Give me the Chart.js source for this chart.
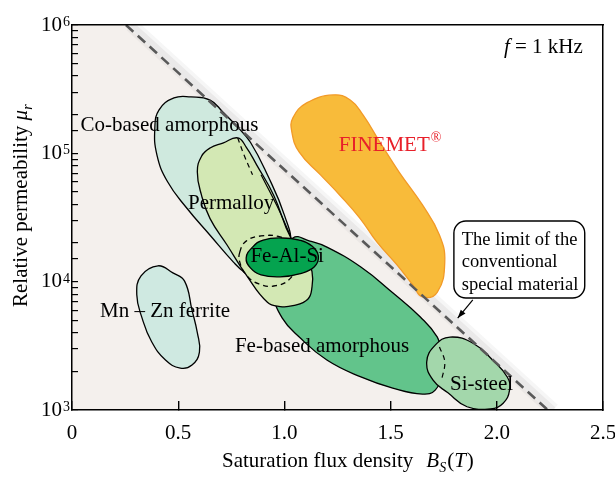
<!DOCTYPE html>
<html>
<head>
<meta charset="utf-8">
<script src="https://cdn.jsdelivr.net/npm/chart.js@4.4.1/dist/chart.umd.min.js"></script>
<style>
body{margin:0;background:#fff}
#wrap{width:615px;height:479px;position:relative}
</style>
</head>
<body>
<div id="wrap"><canvas id="myChart"></canvas></div>
<script>
// tick labels
var xTickValues = [0, 0.5, 1.0, 1.5, 2.0, 2.5]
var xTickLabels = ['0', '0.5', '1.0', '1.5', '2.0', '2.5']
var yTickValues = [1e3, 1e4, 1e5, 1e6]
var yTickBase = '10'
var yTickExps = ['3', '4', '5', '6']

// outlines of the material regions: Bs (T) / relative permeability
var coB  = [0.78, 0.84, 0.92, 1.00, 1.03, 0.98, 0.88, 0.81, 0.76, 0.65, 0.54, 0.45, 0.40, 0.39, 0.41, 0.48, 0.56, 0.65, 0.71]
var coMu = [1.6e5, 1.22e5, 6.8e4, 3.3e4, 1.9e4, 1.23e4, 1.03e4, 1.19e4, 1.42e4, 2.3e4, 3.75e4, 6.0e4, 9.7e4, 1.58e5, 2.18e5, 2.7e5, 2.75e5, 2.6e5, 2.1e5]

var permB  = [0.71, 0.78, 0.82, 0.87, 0.95, 1.03, 1.10, 1.13, 1.13, 1.11, 1.04, 0.98, 0.92, 0.82, 0.73, 0.65, 0.61, 0.59, 0.61, 0.65]
var permMu = [1.2e5, 1.32e5, 1.12e5, 8.1e4, 4.7e4, 2.2e4, 1.6e4, 1.2e4, 9.1e3, 7.3e3, 6.5e3, 6.4e3, 6.9e3, 1.13e4, 1.93e4, 3.1e4, 4.7e4, 7.2e4, 9.5e4, 1.1e5]

var fasB  = [0.99, 1.07, 1.13, 1.16, 1.14, 1.07, 0.98, 0.89, 0.84, 0.82, 0.85, 0.90]
var fasMu = [2.19e4, 2.11e4, 1.9e4, 1.58e4, 1.3e4, 1.15e4, 1.09e4, 1.13e4, 1.28e4, 1.53e4, 1.86e4, 2.11e4]

var ringB  = [0.79, 0.82, 0.89, 0.98, 1.05, 1.06, 1.03, 0.96, 0.88, 0.82, 0.79]
var ringMu = [1.7e4, 2.07e4, 2.27e4, 2.23e4, 1.93e4, 1.42e4, 1.07e4, 9.3e3, 9.6e3, 1.13e4, 1.42e4]

var febB  = [1.20, 1.36, 1.51, 1.64, 1.72, 1.74, 1.74, 1.71, 1.65, 1.51, 1.36, 1.20, 1.07, 0.99, 0.95, 0.96, 1.04, 1.12]
var febMu = [1.86e4, 1.3e4, 8.2e3, 5.3e3, 3.7e3, 2.8e3, 1.94e3, 1.43e3, 1.33e3, 1.48e3, 1.81e3, 2.45e3, 3.7e3, 5.2e3, 7.9e3, 1.35e4, 2.19e4, 2.07e4]

var siB  = [1.78, 1.89, 1.98, 2.05, 2.06, 2.03, 1.97, 1.86, 1.77, 1.70, 1.67, 1.71]
var siMu = [3.7e3, 3.3e3, 2.45e3, 1.8e3, 1.43e3, 1.13e3, 1.02e3, 1.06e3, 1.36e3, 1.71e3, 2.37e3, 3.2e3]

var mnB  = [0.405, 0.475, 0.53, 0.565, 0.59, 0.60, 0.565, 0.51, 0.44, 0.375, 0.33, 0.305, 0.325]
var mnMu = [1.33e4, 1.17e4, 1.01e4, 6.0e3, 4.0e3, 2.83e3, 2.24e3, 2.12e3, 2.45e3, 3.4e3, 5.2e3, 7.9e3, 1.11e4]

var finB  = [1.23, 1.31, 1.37, 1.45, 1.54, 1.65, 1.73, 1.755, 1.72, 1.65, 1.605, 1.53, 1.435, 1.355, 1.26, 1.17, 1.07, 1.035, 1.04, 1.105]
var finMu = [2.85e5, 2.6e5, 1.99e5, 1.22e5, 7.15e4, 3.96e4, 2.31e4, 1.42e4, 8.3e3, 7.6e3, 9.4e3, 1.35e4, 2.04e4, 3.13e4, 4.74e4, 6.8e4, 1.02e5, 1.47e5, 1.89e5, 2.47e5]

// inner edges
var coEdgeB  = [0.89, 0.965, 1.03]
var coEdgeMu = [6.8e4, 3.9e4, 2.25e4]
var permDashB  = [0.78, 0.81, 0.85]
var permDashMu = [1.32e5, 9.7e4, 6.8e4]
var siDashB  = [1.73, 1.755, 1.74]
var siDashMu = [3.1e3, 2.37e3, 1.71e3]

// limit of the conventional special material
var limitB  = [0.254, 2.24]
var limitMu = [1e6, 1e3]

var serif = '"Liberation Serif", "Times New Roman", serif'

function pts(bs, mus){
    return bs.map(function(b, i){ return {x: b, y: mus[i]} })
}
function region(name, bs, mus, fillCol, edgeCol, order){
    return {label: name, data: pts(bs, mus), fill: 'shape', backgroundColor: fillCol,
        borderColor: edgeCol, borderWidth: 1.3, pointRadius: 0, tension: 0.45, order: order, closed: true}
}
function edge(name, bs, mus, dash, order){
    return {label: name, data: pts(bs, mus), fill: false, borderColor: '#000', borderWidth: 1.2,
        borderDash: dash, pointRadius: 0, tension: 0.4, order: order}
}
// soft shade on the upper side of the limit line
var shadeB = limitB.map(function(b){ return b + 0.025 })

var datasets = [
    {label: 'bg', data: pts([0, limitB[0], limitB[1], 2.5], [limitMu[0], limitMu[0], limitMu[1], limitMu[1]]),
        fill: 'start', backgroundColor: '#f4f0ed', borderWidth: 0, pointRadius: 0, order: 100},
    {label: 'shade1', data: pts(shadeB, limitMu), fill: false, borderColor: 'rgba(110,100,95,0.06)', borderWidth: 14, pointRadius: 0, order: 99},
    {label: 'shade2', data: pts(shadeB, limitMu), fill: false, borderColor: 'rgba(110,100,95,0.09)', borderWidth: 7, pointRadius: 0, order: 98},
    region('Co-based amorphous', coB, coMu, '#cfe9de', '#000', 90),
    region('Mn-Zn ferrite', mnB, mnMu, '#cfe9e1', '#000', 90),
    region('FINEMET', finB, finMu, '#f8bb3a', '#f29a27', 90),
    region('Fe-based amorphous', febB, febMu, '#62c48b', '#000', 80),
    region('Permalloy', permB, permMu, '#d3e8b4', '#000', 70),
    edge('Co edge', coEdgeB, coEdgeMu, [], 65),
    edge('Permalloy dash', permDashB, permDashMu, [5, 4], 65),
    Object.assign(region('ring', ringB, ringMu, 'rgba(0,0,0,0)', '#000', 60), {borderDash: [5, 4], fill: false}),
    region('Fe-Al-Si', fasB, fasMu, '#05a34f', '#000', 55),
    region('Si-steel', siB, siMu, '#a3d7ab', '#000', 50),
    edge('Si dash', siDashB, siDashMu, [5, 4], 45),
    {label: 'limit', data: pts(limitB, limitMu), fill: false, borderColor: '#595959', borderWidth: 2.6,
        borderDash: [10, 6], pointRadius: 0, order: 40}
]

// text on the plot
var textLabels = [
    {text: 'Co-based amorphous', b: 0.04, mu: 1.66e5},
    {text: 'Permalloy', b: 0.546, mu: 4.1e4},
    {text: 'Fe-Al-Si', b: 0.84, mu: 1.58e4},
    {text: 'Mn – Zn ferrite', b: 0.132, mu: 5.9e3},
    {text: 'Fe-based amorphous', b: 0.767, mu: 3.1e3},
    {text: 'Si-steel', b: 1.78, mu: 1.57e3}
]
var finemetLabel = {b: 1.256, mu: 1.16e5}
var freqLabel = {b: 2.405, mu: 6.74e5}
var callout = {b1: 1.798, b2: 2.414, mu1: 2.97e4, mu2: 7.46e3, textB: 1.835,
    lines: ['The limit of the', 'conventional', 'special material'], lineMu: [2.11e4, 1.42e4, 9.42e3],
    arrowFrom: {b: 1.887, mu: 7.2e3}, arrowTo: {b: 1.816, mu: 5.2e3}}

// make the region outlines smooth all the way round
var loopPlugin = {
    id: 'loops',
    afterDatasetsUpdate: function(chart){
        chart.data.datasets.forEach(function(ds, i){
            if (ds.closed){
                var line = chart.getDatasetMeta(i).dataset
                line._loop = true
                line._fullLoop = true
            }
        })
    }
}

var notesPlugin = {
    id: 'notes',
    afterDatasetsDraw: function(chart){
        var ctx = chart.ctx, xs = chart.scales.x, ys = chart.scales.y
        var px = function(b){ return xs.getPixelForValue(b) }
        var py = function(m){ return ys.getPixelForValue(m) }
        ctx.save()
        ctx.textBaseline = 'middle'
        ctx.fillStyle = '#000'
        ctx.font = '21px ' + serif
        textLabels.forEach(function(l){ ctx.fillText(l.text, px(l.b), py(l.mu)) })

        // FINEMET®
        ctx.fillStyle = '#e8202a'
        ctx.fillText('FINEMET', px(finemetLabel.b), py(finemetLabel.mu))
        var w = ctx.measureText('FINEMET').width
        ctx.font = '14px ' + serif
        ctx.fillText('®', px(finemetLabel.b) + w + 1, py(finemetLabel.mu) - 7)

        // f = 1 kHz
        ctx.fillStyle = '#000'
        ctx.font = '21px ' + serif
        ctx.textAlign = 'right'
        var rest = ' = 1 kHz'
        var rx = px(freqLabel.b)
        ctx.fillText(rest, rx, py(freqLabel.mu))
        var rw = ctx.measureText(rest).width
        ctx.font = 'italic 21px ' + serif
        ctx.fillText('f', rx - rw, py(freqLabel.mu))
        ctx.textAlign = 'left'

        // callout box
        var x1 = px(callout.b1), x2 = px(callout.b2), y1 = py(callout.mu1), y2 = py(callout.mu2)
        ctx.beginPath()
        ctx.roundRect(x1, y1, x2 - x1, y2 - y1, 12)
        ctx.fillStyle = '#fff'
        ctx.fill()
        ctx.lineWidth = 1.4
        ctx.strokeStyle = '#000'
        ctx.stroke()
        ctx.fillStyle = '#000'
        ctx.font = '18.5px ' + serif
        callout.lines.forEach(function(t, i){ ctx.fillText(t, px(callout.textB), py(callout.lineMu[i])) })

        // arrow
        var ax = px(callout.arrowFrom.b), ay = py(callout.arrowFrom.mu)
        var bx = px(callout.arrowTo.b), by = py(callout.arrowTo.mu)
        ctx.beginPath()
        ctx.moveTo(ax, ay)
        ctx.lineTo(bx, by)
        ctx.lineWidth = 1.2
        ctx.stroke()
        var ang = Math.atan2(by - ay, bx - ax)
        ctx.beginPath()
        ctx.moveTo(bx, by)
        ctx.lineTo(bx - 9 * Math.cos(ang - 0.35), by - 9 * Math.sin(ang - 0.35))
        ctx.lineTo(bx - 9 * Math.cos(ang + 0.35), by - 9 * Math.sin(ang + 0.35))
        ctx.closePath()
        ctx.fill()
        ctx.restore()
    },
    afterDraw: function(chart){
        var ctx = chart.ctx, ys = chart.scales.y, area = chart.chartArea
        ctx.save()
        ctx.fillStyle = '#000'
        // exponents of the y tick labels
        ctx.font = '14px ' + serif
        ctx.textBaseline = 'alphabetic'
        yTickValues.forEach(function(v, i){
            ctx.fillText(yTickExps[i], area.left - 9, ys.getPixelForValue(v) + 1)
        })
        // x title
        ctx.font = '21px ' + serif
        var tx = 222, ty = 467
        ctx.fillText('Saturation flux density', tx, ty)
        tx += ctx.measureText('Saturation flux density').width + 13
        ctx.font = 'italic 21px ' + serif
        ctx.fillText('B', tx, ty)
        tx += ctx.measureText('B').width
        ctx.font = 'italic 14px ' + serif
        ctx.fillText('S', tx, ty + 5)
        tx += ctx.measureText('S').width + 1
        ctx.font = '21px ' + serif
        ctx.fillText('(', tx, ty)
        tx += ctx.measureText('(').width
        ctx.font = 'italic 21px ' + serif
        ctx.fillText('T', tx, ty)
        tx += ctx.measureText('T').width + 1
        ctx.font = '21px ' + serif
        ctx.fillText(')', tx, ty)
        // y title
        ctx.translate(27, 307)
        ctx.rotate(-Math.PI / 2)
        ctx.font = '21px ' + serif
        ctx.fillText('Relative permeability ', 0, 0)
        var yw = ctx.measureText('Relative permeability ').width
        ctx.font = 'italic 21px ' + serif
        ctx.fillText('μ', yw, 0)
        yw += ctx.measureText('μ').width
        ctx.font = 'italic 14px ' + serif
        ctx.fillText('r', yw, 5)
        ctx.restore()
    }
}

function yLabel(v){
    for (var i = 0; i < yTickValues.length; i++){
        if (Math.abs(Math.log10(v) - Math.log10(yTickValues[i])) < 1e-6) return yTickBase
    }
    return ''
}

new Chart('myChart', {
    type: 'line',
    data: {datasets: datasets},
    options: {
        responsive: true,
        maintainAspectRatio: false,
        animation: false,
        events: [],
        layout: {padding: {top: 25, right: 12, left: 0, bottom: 0}},
        plugins: {legend: {display: false}, tooltip: {enabled: false}},
        scales: {
            x: {
                type: 'linear', position: 'bottom', min: 0, max: 2.5,
                afterFit: function(s){ s.height = 69; s.paddingRight = 0; s.paddingLeft = 0 },
                afterBuildTicks: function(s){ s.ticks = xTickValues.map(function(v){ return {value: v} }) },
                ticks: {
                    callback: function(v){ return xTickLabels[xTickValues.indexOf(v)] },
                    font: {family: serif, size: 21}, color: '#000', padding: 20, maxRotation: 0, autoSkip: false
                },
                grid: {drawOnChartArea: false, drawTicks: true, tickLength: -9, color: '#000', lineWidth: 1.4, z: 1},
                border: {display: true, color: '#000', width: 1.5, z: 1}
            },
            y: {
                type: 'logarithmic', position: 'left', min: 1e3, max: 1e6,
                afterFit: function(s){ s.width = 72; s.paddingTop = 0; s.paddingBottom = 0 },
                ticks: {
                    autoSkip: false, callback: yLabel,
                    font: {family: serif, size: 21}, color: '#000', padding: 16
                },
                grid: {drawOnChartArea: false, drawTicks: true, tickLength: -6, color: '#000', lineWidth: 1.2, z: 1},
                border: {display: true, color: '#000', width: 1.5, z: 1}
            },
            x2: {
                type: 'linear', position: 'top', min: 0, max: 2.5,
                afterFit: function(s){ s.height = 0 },
                ticks: {display: false}, grid: {display: false, drawTicks: false},
                border: {display: true, color: '#000', width: 1.5, z: 1}
            },
            y2: {
                type: 'linear', position: 'right', min: 0, max: 1,
                afterFit: function(s){ s.width = 0 },
                ticks: {display: false}, grid: {display: false, drawTicks: false},
                border: {display: true, color: '#000', width: 1.5, z: 1}
            }
        }
    },
    plugins: [loopPlugin, notesPlugin]
})
</script>
</body>
</html>
